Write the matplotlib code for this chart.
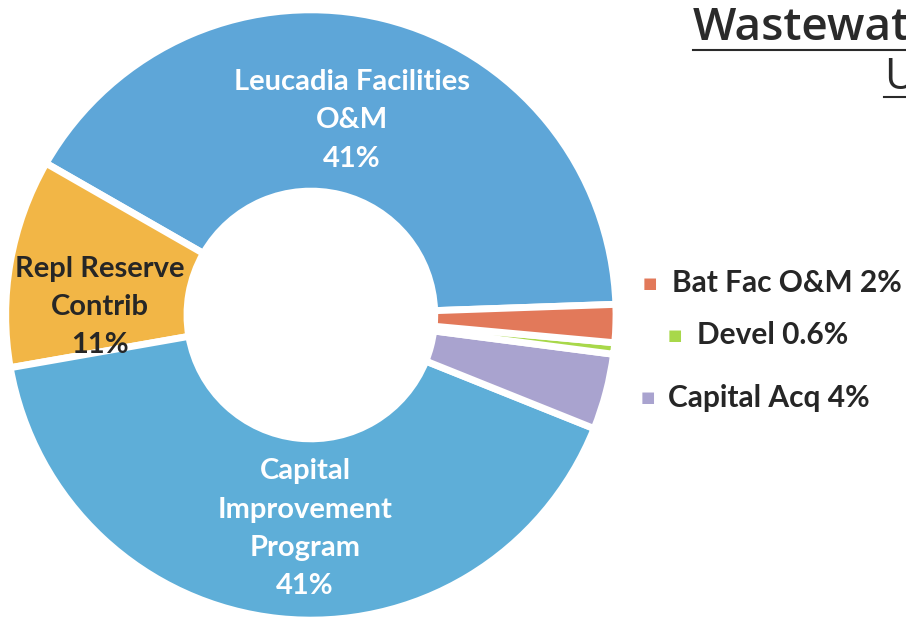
import matplotlib
matplotlib.use("Agg")
import matplotlib.pyplot as plt
from matplotlib.lines import Line2D

# data
labels = ["Leucadia Facilities\nO&M", "Repl Reserve\nContrib", "Capital\nImprovement\nProgram",
          "Capital Acq", "Devel", "Bat Fac O&M"]
values = [41, 11, 41, 4, 0.6, 2]
pct_text = ["41%", "11%", "41%", "4%", "0.6%", "2%"]
colors = ["#5ea6d8", "#f2b646", "#5eaed8", "#a9a3cf", "#a8d84a", "#e2795a"]
txt_colors = ["white", "#262626", "white"]

plt.rcParams['font.family'] = ['Lato', 'DejaVu Sans']

fig = plt.figure(figsize=(9.06, 6.17), dpi=100)
ax = fig.add_axes([-0.0149, -0.0365, 0.716, 1.052])

wedges, _ = ax.pie(values, colors=colors, startangle=2, counterclock=True,
                   radius=1.035, wedgeprops=dict(width=0.615, edgecolor="white", linewidth=5))
ax.set_xlim(-1.1, 1.1)
ax.set_ylim(-1.1, 1.1)
ax.set_aspect("equal")
ax.axis("off")

# labels in the three big rings (data coords)
pos = [(0.14, 0.66), (-0.715, 0.027), (-0.02, -0.725)]
for i in range(3):
    t = ax.text(pos[i][0], pos[i][1], labels[i] + "\n" + pct_text[i], ha="center", va="center",
                color=txt_colors[i], fontsize=21, fontweight="bold", linespacing=1.58)
    t.set_zorder(5)

# small slices listed on the right
side = [(5, 650, 283, 672), (4, 675, 335, 697), (3, 648, 398, 668)]
for i, mx, my, tx in side:
    fig.text(mx / 906, 1 - my / 617, "■", color=colors[i], fontsize=11,
             ha="center", va="center", family="DejaVu Sans")
    fig.text(tx / 906, 1 - my / 617, labels[i] + " " + pct_text[i], color="#262626",
             fontsize=21.5, fontweight="bold", ha="left", va="center")

# title, cut by the right edge as in the source
fig.text(693 / 906, 1 - 28 / 617, "Wastewater", fontsize=33, color="#2a2a2a",
         ha="left", va="center", family=["Open Sans", "DejaVu Sans"], fontweight="semibold")
fig.add_artist(Line2D([693 / 906, 1.0], [1 - 50 / 617] * 2, color="#2a2a2a", lw=1.5))
fig.text(884 / 906, 1 - 78 / 617, "Uses", fontsize=31, color="#2a2a2a",
         ha="left", va="center", family=["Open Sans", "DejaVu Sans"])
fig.add_artist(Line2D([884 / 906, 1.0], [1 - 97 / 617] * 2, color="#2a2a2a", lw=1.5))

fig.savefig("out.png", dpi=100)
